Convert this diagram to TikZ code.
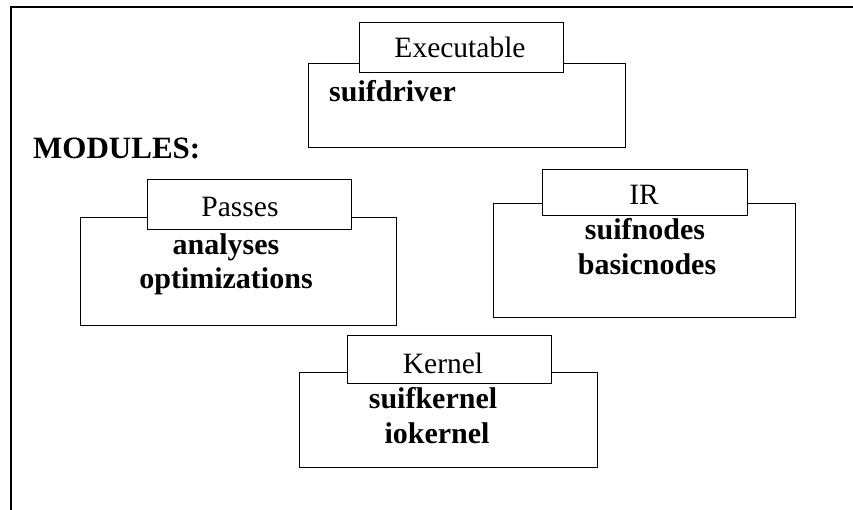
\documentclass[tikz,border=0pt]{standalone}
\usepackage{fontspec}
\setmainfont{Liberation Serif}
\begin{document}
\begin{tikzpicture}[x=1pt,y=-1pt,
  modbox/.style={draw, line width=1.2pt, inner sep=0pt, anchor=north west},
  tabbox/.style={modbox, fill=white},
  tabtext/.style={anchor=base, inner sep=0pt, font=\fontsize{29.5}{34}\selectfont},
  itemtext/.style={anchor=base, inner sep=0pt, font=\fontsize{30}{35}\selectfont\bfseries}]
\useasboundingbox (0,0) rectangle (853,510);
% frame
\draw[line width=1.6pt] (853,7) -- (11,7) -- (11,510);
\node[anchor=base west, inner sep=0pt, font=\fontsize{31}{36}\selectfont\bfseries] (modules) at (33,159) {MODULES:};
% Executable
\node[modbox, minimum width=317pt, minimum height=84pt] (execbox) at (308,63) {};
\node[tabbox, minimum width=204pt, minimum height=50pt] (exectab) at (359,22) {};
\node[tabtext] (exectitle) at (460,58) {Executable};
\node[itemtext, anchor=base west] (suifdriver) at (329,102) {suifdriver};
% Passes
\node[modbox, minimum width=316pt, minimum height=108pt] (passbox) at (80,217) {};
\node[tabbox, minimum width=204pt, minimum height=50pt] (passtab) at (147,179) {};
\node[tabtext] (passtitle) at (240,217) {Passes};
\node[itemtext] (analyses) at (226,255) {analyses};
\node[itemtext] (optim) at (226,289) {optimizations};
% IR
\node[modbox, minimum width=302pt, minimum height=114pt] (irbox) at (493,203) {};
\node[tabbox, minimum width=205pt, minimum height=46pt] (irtab) at (542,169) {};
\node[tabtext] (irtitle) at (644,205) {IR};
\node[itemtext] (suifnodes) at (645,240) {suifnodes};
\node[itemtext] (basicnodes) at (647,275) {basicnodes};
% Kernel
\node[modbox, minimum width=298pt, minimum height=95pt] (kernbox) at (299,372) {};
\node[tabbox, minimum width=204pt, minimum height=48pt] (kerntab) at (347,335) {};
\node[tabtext] (kerntitle) at (443,373) {Kernel};
\node[itemtext] (suifkernel) at (433,408) {suifkernel};
\node[itemtext] (iokernel) at (437,443) {iokernel};
\end{tikzpicture}
\end{document}
